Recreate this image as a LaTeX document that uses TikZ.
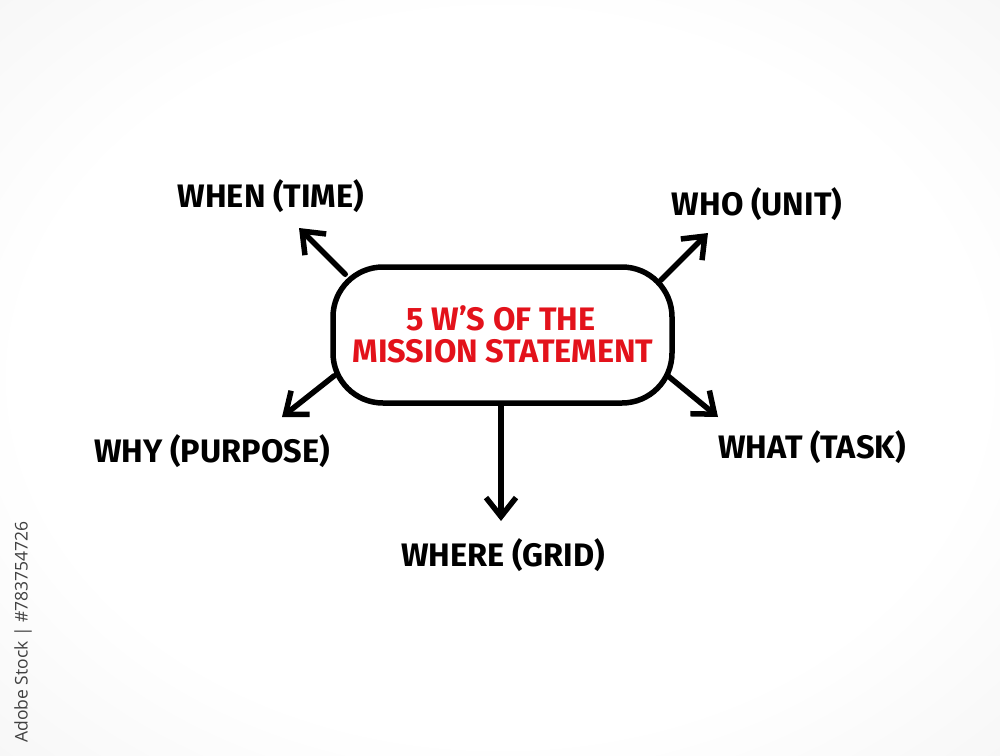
\documentclass[tikz,border=0pt]{standalone}
\usepackage{fontspec}
\setmainfont{Fira Sans}
\newfontfamily\stockfont{Open Sans}
\usetikzlibrary{arrows.meta}
\pgfdeclareradialshading{bgshade}{\pgfpoint{0bp}{0bp}}{color(0bp)=(white); color(24bp)=(white); color(50bp)=(gray!14); color(71bp)=(gray!28)}
\definecolor{titlered}{HTML}{E3121B}
\begin{document}
\begin{tikzpicture}[x=1pt,y=-1pt,
  lbl/.style={font=\fontsize{32.5}{34}\selectfont\bfseries, text=black, inner sep=0pt, anchor=base},
  ttl/.style={font=\fontsize{32.5}{34}\selectfont\bfseries, text=titlered, inner sep=0pt, anchor=base},
  arr/.style={line width=5.5pt, line cap=round, line join=round, -{Straight Barb[length=19pt,width=30pt,line width=5.5pt]}},
  mainbox/.style={draw, line width=5.5pt, rounded corners=50pt, minimum width=339pt, minimum height=136pt, fill=white, inner sep=0pt}
]
\useasboundingbox (0,0) rectangle (1000,755);
\shade[shading=bgshade] (0,0) rectangle (1000,755);

\node[mainbox] (box) at (502.5,335) {};
\node[ttl] (t1) at (501,330) {5 W'S OF THE};
\node[ttl] (t2) at (503,362) {MISSION STATEMENT};

\node[lbl] (when) at (271,207) {WHEN (TIME)};
\node[lbl] (who) at (757,215) {WHO (UNIT)};
\node[lbl] (why) at (212,462) {WHY (PURPOSE)};
\node[lbl] (what) at (812,458) {WHAT (TASK)};
\node[lbl] (where) at (503,566) {WHERE (GRID)};

\coordinate (whenTip) at (299,228);
\coordinate (whoTip) at (708,233);
\coordinate (whyTip) at (282,417);
\coordinate (whatTip) at (718,417);
\coordinate (whereTip) at (501,521);

\draw[arr] ([shift={(15,10)}]box.north west) -- (whenTip);
\draw[arr] ([shift={(-14,16)}]box.north east) -- (whoTip);
\draw[arr] ([shift={(4,-30)}]box.south west) -- (whyTip);
\draw[arr] ([shift={(-7,-30)}]box.south east) -- (whatTip);
\draw[arr] ([shift={(-1.5,0)}]box.south) -- (whereTip);

\node[rotate=90, font=\stockfont\fontsize{17.5}{18}\selectfont, text=black!75, inner sep=0pt] (stock) at (23,632) {Adobe Stock | \#783754726};
\end{tikzpicture}
\end{document}
